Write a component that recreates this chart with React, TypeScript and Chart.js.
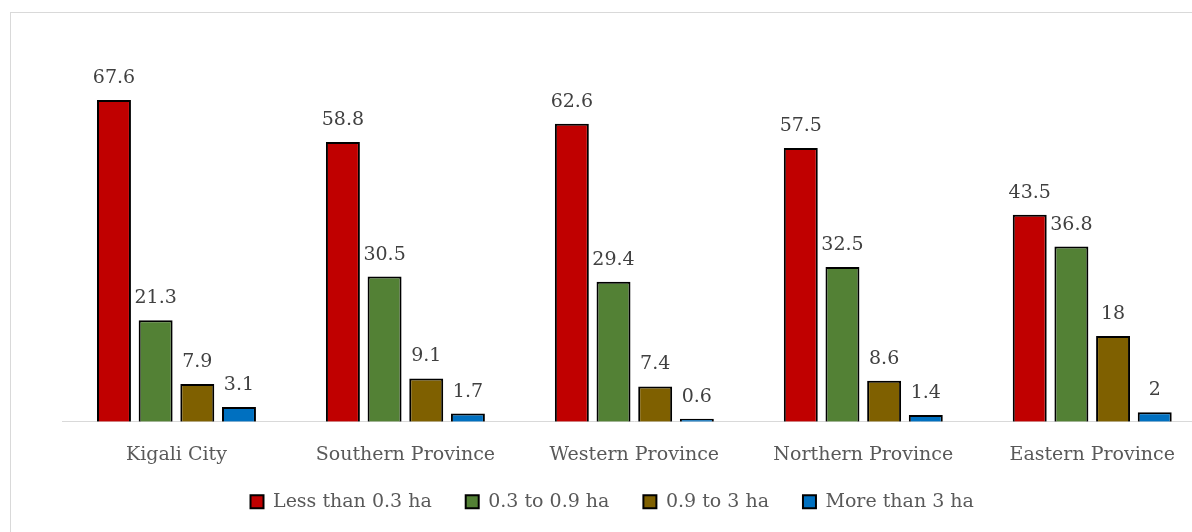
import React, { useEffect, useRef } from "react";
import { Chart, registerables } from "chart.js";

Chart.register(...registerables);

const categories = [
  "Kigali City",
  "Southern Province",
  "Western Province",
  "Northern Province",
  "Eastern Province",
];
const seriesNames = ["Less than 0.3 ha", "0.3 to 0.9 ha", "0.9 to 3 ha", "More than 3 ha"];
const lessThan03 = [67.6, 58.8, 62.6, 57.5, 43.5];
const from03to09 = [21.3, 30.5, 29.4, 32.5, 36.8];
const from09to3 = [7.9, 9.1, 7.4, 8.6, 18];
const moreThan3 = [3.1, 1.7, 0.6, 1.4, 2];
const seriesColors = ["#C00000", "#538135", "#7F6000", "#0070C0"];

const FONT = '"DejaVu Serif", "Liberation Serif", serif';
const FONT_SIZE = 19;

const X_AXIS_HEIGHT = 50;
const LEGEND_HEIGHT = 60.3;
const LEGEND_SHIFT = 13.5;

const valueLabels = {
  id: "valueLabels",
  afterDatasetsDraw(chart: any) {
    const ctx = chart.ctx;
    ctx.save();
    ctx.font = `${FONT_SIZE}px ${FONT}`;
    ctx.fillStyle = "#404040";
    ctx.textAlign = "center";
    ctx.textBaseline = "alphabetic";
    chart.data.datasets.forEach((ds: any, i: number) => {
      const meta = chart.getDatasetMeta(i);
      meta.data.forEach((bar: any, j: number) => {
        ctx.fillText(String(ds.data[j]), bar.x, bar.y - 17);
      });
    });
    ctx.restore();
  },
};

const legendFit = {
  id: "legendFit",
  beforeUpdate(chart: any) {
    const lg = chart.legend;
    if (lg && !lg._patchedFit) {
      const orig = lg.fit;
      lg.fit = function () {
        orig.call(this);
        this.height = LEGEND_HEIGHT;
      };
      lg._patchedFit = true;
    }
  },
  afterLayout(chart: any) {
    const lg = chart.legend;
    if (lg) {
      lg.top -= LEGEND_SHIFT;
      lg.bottom -= LEGEND_SHIFT;
    }
  },
};

export default function App() {
  const ref = useRef<HTMLCanvasElement | null>(null);

  useEffect(() => {
    if (!ref.current) return;
    const values = [lessThan03, from03to09, from09to3, moreThan3];
    const chart = new Chart(ref.current, {
      type: "bar",
      data: {
        labels: categories,
        datasets: seriesNames.map((name, i) => ({
          label: name,
          data: values[i],
          backgroundColor: seriesColors[i],
          borderColor: "#000000",
          borderWidth: 2,
          categoryPercentage: 0.728,
          barPercentage: 0.815,
        })),
      },
      options: {
        responsive: false,
        animation: false,
        devicePixelRatio: 1,
        layout: { padding: { top: 41, right: 3.3, bottom: 0, left: 17.7 } },
        plugins: {
          legend: {
            position: "bottom",
            labels: {
              boxWidth: 13,
              boxHeight: 13,
              padding: 34,
              color: "#595959",
              font: { family: FONT, size: FONT_SIZE },
            },
          },
          tooltip: { enabled: false },
        },
        scales: {
          x: {
            grid: { display: false, drawTicks: false },
            border: { display: true, color: "#d9d9d9", width: 1 },
            ticks: {
              color: "#595959",
              font: { family: FONT, size: FONT_SIZE },
              padding: 22,
              maxRotation: 0,
              autoSkip: false,
            },
            afterFit(scale: any) {
              scale.height = X_AXIS_HEIGHT;
            },
          },
          y: {
            min: 0,
            max: 80,
            grid: { display: false },
            border: { display: false },
            ticks: { display: false },
            afterFit(scale: any) {
              scale.width = 44.3;
            },
          },
        },
      },
      plugins: [valueLabels, legendFit],
    });
    return () => chart.destroy();
  }, []);

  return (
    <div
      style={{
        position: "fixed",
        left: 0,
        top: 0,
        width: 1192,
        height: 532,
        overflow: "hidden",
        background: "#ffffff",
      }}
    >
      <div
        style={{
          position: "absolute",
          left: 10,
          top: 12,
          width: 1400,
          height: 700,
          border: "1px solid #d9d9d9",
          boxSizing: "border-box",
        }}
      />
      <canvas
        ref={ref}
        width={1210}
        height={532}
        style={{ position: "absolute", left: 0, top: 0, width: 1210, height: 532 }}
      />
    </div>
  );
}
